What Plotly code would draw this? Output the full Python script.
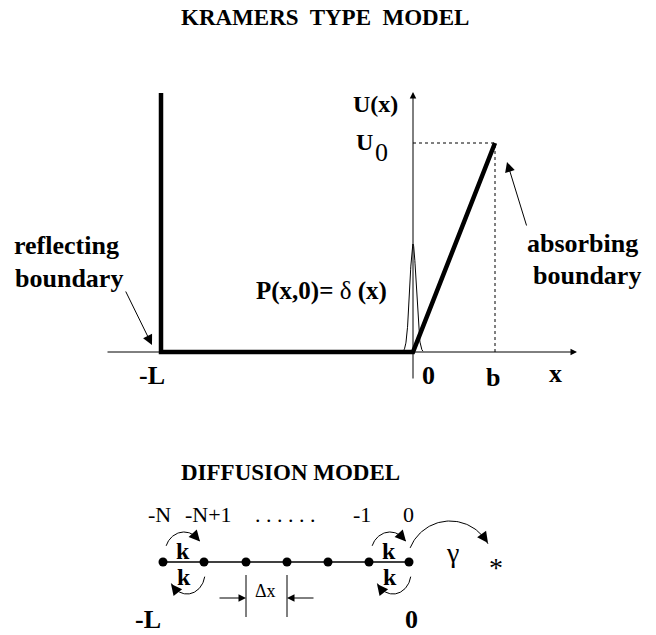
import numpy as np
import plotly.graph_objects as go

FONT = "Liberation Serif, Times New Roman, Times, serif"
W, H = 656, 635

# ---------------- KRAMERS TYPE MODEL (schematic frame) ----------------
x_axis_tail, x_axis_head, axis_level = 106, 577, 352
u_axis_pos, u_axis_tail, u_axis_head = 413, 380, 92
potential_x = [161, 161, 413, 495]
potential_y = [93, 352, 352, 143]
u0_guide_x = [413, 495, 495]
u0_guide_y = [143, 143, 352]
delta_center, delta_height, delta_sigma = 413, 108, 3.2

# ---------------- DIFFUSION MODEL ----------------
node_x = [163, 204, 246, 287, 328, 369, 409]
node_level = 562
site_labels = ["-N", "-N+1", ". . . . . .", "-1", "0"]
site_label_x = [159, 208, 285, 362, 408]
dx_ticks = [246, 287]

fig = go.Figure()

def line(xs, ys, width=1, dash="solid"):
    fig.add_trace(go.Scatter(x=xs, y=ys, mode="lines",
                             line=dict(color="black", width=width, dash=dash),
                             hoverinfo="skip"))

def text(t, x, y, size, bold=True, xanchor="center"):
    if bold:
        t = "<b>" + t + "</b>"
    fig.add_annotation(x=x, y=y, text=t, showarrow=False, xanchor=xanchor,
                       yanchor="middle", font=dict(family=FONT, size=size, color="black"))

def arrow(x0, y0, x1, y1, size=1.0, width=1):
    fig.add_annotation(x=x1, y=y1, ax=x0, ay=y0, axref="x", ayref="y",
                       xref="x", yref="y", text="", showarrow=True,
                       arrowhead=2, arrowsize=size, arrowwidth=width,
                       arrowcolor="black", standoff=0, startstandoff=0)

def arc(cx, cy, rx, ry, a0, a1, n=60):
    a = np.radians(np.linspace(a0, a1, n))
    return cx + rx * np.cos(a), cy - ry * np.sin(a)

# axes of the potential
arrow(x_axis_tail, axis_level, x_axis_head, axis_level, size=1.3)
arrow(u_axis_pos, u_axis_tail, u_axis_pos, u_axis_head, size=1.3)

# potential
line(potential_x, potential_y, width=4.5)
line(u0_guide_x, u0_guide_y, width=1, dash="3px,3px")

# initial delta distribution
dxs = np.linspace(-10, 10, 121)
line(delta_center + dxs, axis_level - delta_height * np.exp(-dxs**2 / (2 * delta_sigma**2)), width=1)

# boundary arrows
arrow(125, 290, 152, 345, size=2.0)
arrow(527, 227, 507, 162, size=2.0)

# texts, upper panel
text("KRAMERS\u00a0 TYPE\u00a0 MODEL", 325, 17, 23)
text("U(x)", 375, 104, 24)
text("U", 364, 142, 24)
text("0", 381, 152, 26, bold=False)
text("reflecting", 66, 245, 26)
text("boundary", 69, 278, 26)
text("absorbing", 582, 243, 26)
text("boundary", 587, 275, 26)
text("<b>P(x,0)=</b> \u03b4 <b>(x)</b>", 321, 291, 25, bold=False)
text("-L", 152, 375, 26)
text("0", 428, 375, 26)
text("b", 493, 377, 26)
text("x", 555, 373, 26)

# ---------------- lower panel ----------------
text("DIFFUSION MODEL", 290, 472, 23)
for lab, lx in zip(site_labels, site_label_x):
    text(lab, lx, 514, 22, bold=False)

line([node_x[0], node_x[-1]], [node_level, node_level], width=1.5)
fig.add_trace(go.Scatter(x=node_x, y=[node_level] * len(node_x), mode="markers",
                         marker=dict(color="black", size=9), hoverinfo="skip"))

for shift in (0, node_x[5] - node_x[0]):
    ax_, ay_ = arc(184 + shift, 553, 19, 21, 160, 35)
    line(ax_, ay_, width=1)
    arrow(196 + shift, 537, 200 + shift, 541.5, size=2.2)
    bx_, by_ = arc(187 + shift, 573, 18, 21, -10, -150)
    line(bx_, by_, width=1)
    arrow(175 + shift, 589, 171 + shift, 584, size=2.2)
    text("k", 183 + shift, 551, 24)
    text("k", 184 + shift, 577, 24)

gx, gy = arc(450, 564, 43, 43, 158, 28)
line(gx, gy, width=1)
arrow(483, 536, 488, 543, size=2.2)
text("\u03b3", 452, 552, 28, bold=False)
text("*", 496, 567, 28, bold=False)

# lattice spacing
for tx in dx_ticks:
    line([tx, tx], [575, 617], width=1)
arrow(218, 598, dx_ticks[0], 598, size=1.5)
arrow(315, 598, dx_ticks[1], 598, size=1.5)
text("\u0394x", 265, 591, 18, bold=False)
text("-L", 148, 619, 26)
text("0", 411, 619, 26)

fig.update_xaxes(range=[0, W], visible=False, fixedrange=True)
fig.update_yaxes(range=[H, 0], visible=False, fixedrange=True)
fig.update_layout(width=W, height=H, margin=dict(l=0, r=0, t=0, b=0),
                  plot_bgcolor="white", paper_bgcolor="white", showlegend=False)
fig.write_html("out.html", config={"displayModeBar": False},
               post_script="document.body.style.margin='0px';document.body.style.overflow='hidden';")
